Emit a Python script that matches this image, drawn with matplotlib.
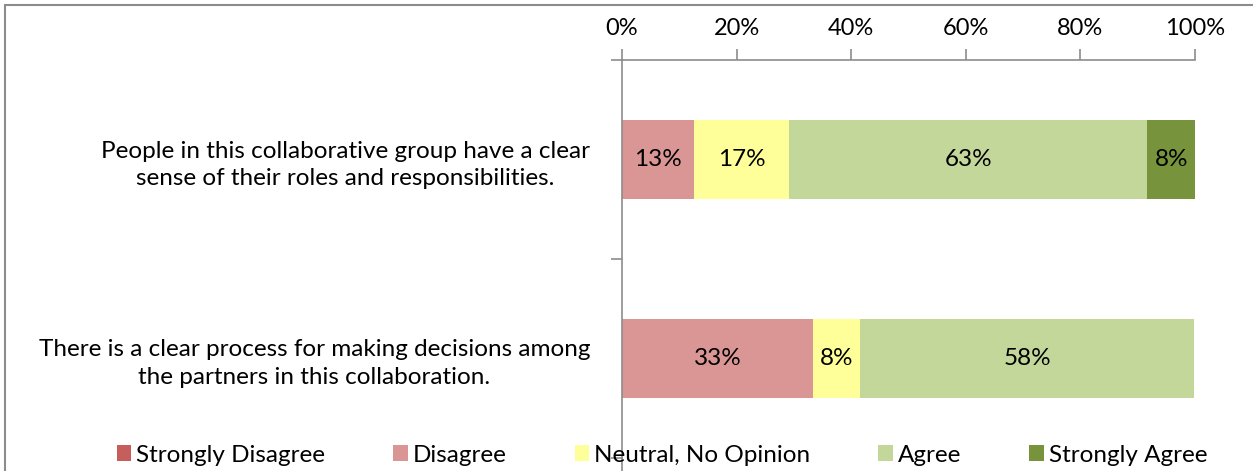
import matplotlib
matplotlib.use("Agg")
import matplotlib.pyplot as plt
from matplotlib.patches import Rectangle
import numpy as np

statements = [
    "People in this collaborative group have a clear\nsense of their roles and responsibilities.",
    "There is a clear process for making decisions among\nthe partners in this collaboration.",
]
responses = ["Strongly Disagree", "Disagree", "Neutral, No Opinion", "Agree", "Strongly Agree"]
colors = ["#C65F5C", "#D99694", "#FFFF99", "#C4D79B", "#77933C"]

# share of respondents (%) per statement, one list per response level
strongly_disagree = [0.0, 0.0]
disagree = [12.5, 33.3]
neutral = [16.7, 8.3]
agree = [62.5, 58.3]
strongly_agree = [8.3, 0.0]

series = [strongly_disagree, disagree, neutral, agree, strongly_agree]
x_ticks = [0, 20, 40, 60, 80, 100]

plt.rcParams["font.family"] = ["Lato", "DejaVu Sans"]
W, H = 1253, 471
fig = plt.figure(figsize=(W / 100, H / 100), dpi=100)
ax = fig.add_axes([622 / W, 1 - 458 / H, (1195 - 622) / W, (458 - 60) / H])

y = np.arange(len(statements))
left = np.zeros(len(statements))
for name, vals, col in zip(responses, series, colors):
    vals = np.array(vals)
    ax.barh(y, vals, left=left, height=0.4, color=col, label=name)
    for yi, (l, v) in enumerate(zip(left, vals)):
        if v > 0:
            ax.text(l + v / 2, yi, f"{int(v + 0.5)}%", ha="center", va="center",
                    fontsize=17.5, color="black")
    left += vals

ax.set_xlim(0, 100)
ax.set_ylim(1.5, -0.5)
ax.xaxis.tick_top()
ax.set_xticks(x_ticks)
ax.set_xticklabels([f"{t}%" for t in x_ticks])
ax.tick_params(axis="x", length=8, width=1.2, color="#8c8c8c", labelsize=17, pad=7)

# category boundaries carry the tick marks, labels sit at band centres
ax.set_yticks([-0.5, 0.5, 1.5])
ax.set_yticklabels([])
ax.set_yticks(y, minor=True)
ax.set_yticklabels(statements, minor=True, ha="right", multialignment="center",
                   fontsize=17.5, linespacing=1.4)
ax.tick_params(axis="y", which="major", length=8, width=1.2, color="#8c8c8c")
ax.tick_params(axis="y", which="minor", length=0, pad=23)

for s in ["right", "bottom"]:
    ax.spines[s].set_visible(False)
for s in ["top", "left"]:
    ax.spines[s].set_color("#8c8c8c")
    ax.spines[s].set_linewidth(1.2)
ax.plot([0, 0], [0, -0.1], transform=ax.transAxes, color="#8c8c8c", lw=1.2, clip_on=False)

fig.legend(loc="center", bbox_to_anchor=(662 / W, 1 - 455 / H), ncol=5, frameon=False,
           fontsize=17.5, handlelength=0.6, handleheight=0.6, handletextpad=0.2,
           columnspacing=2.8, borderaxespad=0)

# outer chart frame
fig.add_artist(Rectangle((5 / W, -0.1), 1.2, 1.1 - 5 / H, transform=fig.transFigure,
                         fill=False, edgecolor="#8c8c8c", lw=1.5))

fig.savefig("out.png", dpi=100)
